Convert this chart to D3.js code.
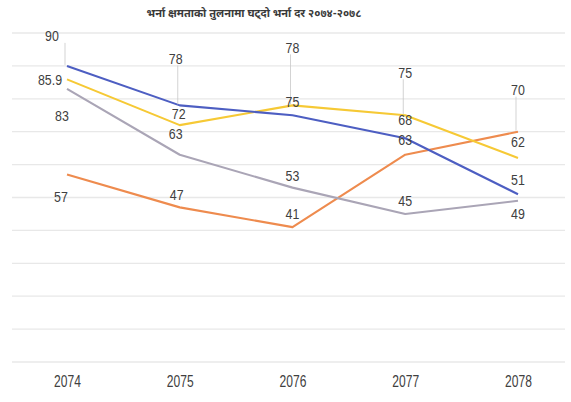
<!DOCTYPE html>
<html>
<head>
<meta charset="utf-8">
<script src="https://cdn.jsdelivr.net/npm/d3@7"></script>
<style>
  body { margin: 0; background: #ffffff; }
  svg { display: block; }
</style>
</head>
<body>
<svg id="chart" width="571" height="402"></svg>
<script>
// ---- data ----
const chartTitle = "भर्ना क्षमताको तुलनामा घट्दो भर्ना दर २०७४-२०७८";
const years = ["2074", "2075", "2076", "2077", "2078"];
const blueValues = [90, 78, 75, 68, 51];
const yellowValues = [85.9, 72, 78, 75, 62];
const grayValues = [83, 63, 53, 45, 49];
const orangeValues = [57, 47, 41, 63, 70];
const gridTicks = [0, 10, 20, 30, 40, 50, 60, 70, 80, 90, 100];

// ---- layout: label offsets from each point, and which labels get a leader line ----
const labelOffsets = {
  blue:   [[-15, -30], [-4, -47], [0, -14], [0, -19], [0, -15]],
  yellow: [[-17, 0],   [-1, -12], [0, -58], [0, -43], [0, -17]],
  gray:   [[-5, 27],   [-4, -21], [0, -12], [0, -13], [0, 13]],
  orange: [[-6, 22],   [-3, -13], [0, -14], [0, -15], [0, -42]]
};
const leaderFlags = {
  blue:   [true, true, false, false, false],
  yellow: [false, false, true, true, false],
  gray:   [false, false, false, false, false],
  orange: [false, false, false, false, true]
};

const series = [
  { key: "orange", values: orangeValues, color: "#ee8b4e" },
  { key: "gray",   values: grayValues,   color: "#aaa5b6" },
  { key: "yellow", values: yellowValues, color: "#f6c935" },
  { key: "blue",   values: blueValues,   color: "#4d5ec2" }
];

const narrowFont = "'Liberation Sans', Arial, sans-serif";
const svg = d3.select("#chart");

const x = d3.scalePoint().domain(years).range([67, 518]);
const y = d3.scaleLinear().domain([0, 100]).range([362, 33]);

// title
svg.append("text")
  .attr("x", 254)
  .attr("y", 17)
  .attr("text-anchor", "middle")
  .attr("font-family", "'Noto Sans Devanagari', 'Noto Sans', sans-serif")
  .attr("font-size", 11)
  .attr("font-weight", "bold")
  .attr("fill", "#3a3a3a")
  .text(chartTitle);

// horizontal gridlines
svg.append("g")
  .selectAll("line")
  .data(gridTicks)
  .join("line")
  .attr("x1", 12)
  .attr("x2", 565)
  .attr("y1", d => y(d))
  .attr("y2", d => y(d))
  .attr("stroke", "#e8e8e8")
  .attr("stroke-width", 1.3);

// category axis labels (condensed by a horizontal scale)
const xAxis = d3.axisBottom(x).tickSize(0).tickPadding(0);
const axisG = svg.append("g")
  .attr("transform", "translate(0,375)")
  .call(xAxis);
axisG.select(".domain").remove();
axisG.selectAll("text")
  .attr("font-family", narrowFont)
  .attr("font-size", 17)
  .attr("fill", "#404040")
  .attr("transform", "scale(0.71,1)");

// lines
const line = d3.line()
  .x((d, i) => x(years[i]))
  .y(d => y(d));

svg.append("g")
  .selectAll("path")
  .data(series)
  .join("path")
  .attr("d", s => line(s.values))
  .attr("fill", "none")
  .attr("stroke", s => s.color)
  .attr("stroke-width", 2.1)
  .attr("stroke-linejoin", "round");

// leader lines and data labels
const labelData = [];
series.forEach(s => {
  s.values.forEach((v, i) => {
    const [dx, dy] = labelOffsets[s.key][i];
    labelData.push({
      value: v,
      px: x(years[i]),
      py: y(v),
      lx: x(years[i]) + dx,
      ly: y(v) + dy,
      leader: leaderFlags[s.key][i]
    });
  });
});

svg.append("g")
  .selectAll("line")
  .data(labelData.filter(d => d.leader))
  .join("line")
  .attr("x1", d => d.px - 2)
  .attr("x2", d => d.px - 2)
  .attr("y1", d => d.ly + 7)
  .attr("y2", d => d.py - 1)
  .attr("stroke", "#c8c8c8")
  .attr("stroke-width", 0.8);

svg.append("g")
  .selectAll("text")
  .data(labelData)
  .join("text")
  .attr("transform", d => `translate(${d.lx},${d.ly}) scale(0.8,1)`)
  .attr("text-anchor", "middle")
  .attr("dominant-baseline", "central")
  .attr("font-family", narrowFont)
  .attr("font-size", 15.5)
  .attr("fill", "#404040")
  .text(d => d.value);
</script>
</body>
</html>
